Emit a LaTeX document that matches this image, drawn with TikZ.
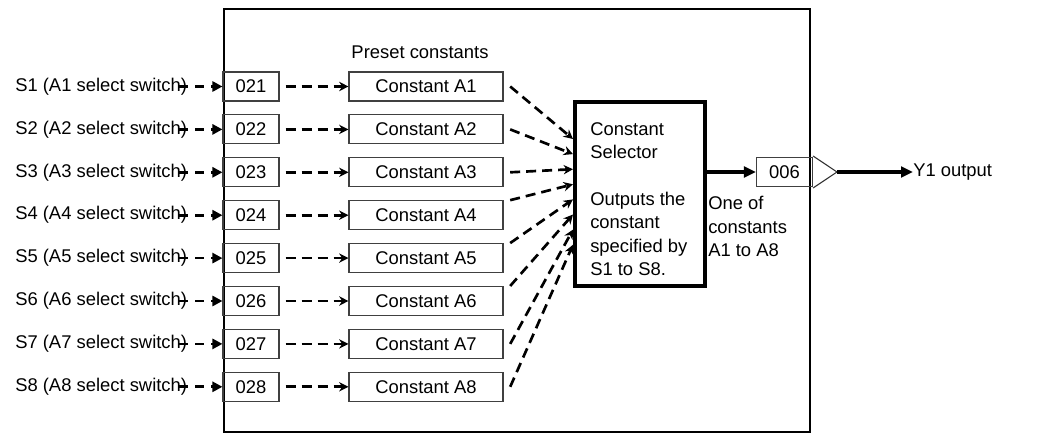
\documentclass[tikz,border=0pt]{standalone}
\usepackage{fontspec}
\setmainfont{Liberation Sans}
\usetikzlibrary{arrows.meta,calc}
\begin{document}
\begin{tikzpicture}[x=0.75pt,y=-0.75pt,
  font=\fontsize{13.8pt}{17.6pt}\selectfont,
  numbox/.style={draw=black!75, line width=0.8pt, minimum width=42pt, minimum height=21.75pt, inner sep=0pt},
  constbox/.style={numbox, minimum width=115.5pt},
  txt/.style={inner sep=0pt, align=left},
  inarrow/.style={line width=2pt, dash pattern=on 6.75pt off 5.25pt, -{Triangle[length=7.5pt,width=7.5pt]}},
  dasharrow/.style={line width=2pt, dash pattern=on 7.5pt off 4.5pt, -{Stealth[length=7pt,width=7pt]}},
  thickarrow/.style={line width=3pt, -{Triangle[length=9pt,width=8pt]}}
]
\useasboundingbox (0,0) rectangle (1043,435);
% frame
\draw[line width=1.5pt] (224,9) rectangle (810,432);
\node[txt] (preset) at (420,52) {Preset constants};
% rows
\foreach \i in {1,...,8} {
  \pgfmathsetmacro\yy{86.5+42.9*(\i-1)}
  \node[txt, anchor=west] (s\i) at (15,\yy) {S\i\ (A\i\ select switch)};
  \node[numbox] (n\i) at (251,\yy) {02\i};
  \node[constbox] (c\i) at (426,\yy) {Constant A\i};
  \draw[inarrow] ([xshift=-6pt]s\i.east) -- (n\i.west);
  \draw[dasharrow] ([xshift=4.5pt]n\i.east) -- (c\i.west);
}
% selector
\node[draw, line width=3pt, minimum width=97.5pt, minimum height=138pt, inner sep=0pt] (sel) at (640,194) {};
\node[txt, anchor=north west] (seltext) at (590,122) {Constant\\Selector\\[17.6pt]Outputs the\\constant\\specified by\\S1 to S8.};
% connectors constants -> selector
\foreach \i/\s in {1/east,2/east,3/east,4/north east,5/north east,6/north east,7/east,8/east} {
  \draw[dasharrow] ([xshift=5pt]c\i.\s) -- ($(sel.north west)+(0,{39+15.1*(\i-1)})$);
}
% output
\node[numbox] (o6) at (784.5,172) {006};
\coordinate (tri) at (837,172);
\draw[line width=0.8pt, draw=black!80] ([yshift=0.75pt]o6.north east) -- (tri) -- ([yshift=-0.75pt]o6.south east);
\draw[thickarrow] (sel.east |- o6.west) -- (o6.west);
\node[txt, anchor=west] (y1) at (913,172) {Y1 output};
\draw[thickarrow] (tri) -- (y1.west);
\node[txt, anchor=north west] (oneof) at (708,196) {One of\\constants\\A1 to A8};
\end{tikzpicture}
\end{document}
